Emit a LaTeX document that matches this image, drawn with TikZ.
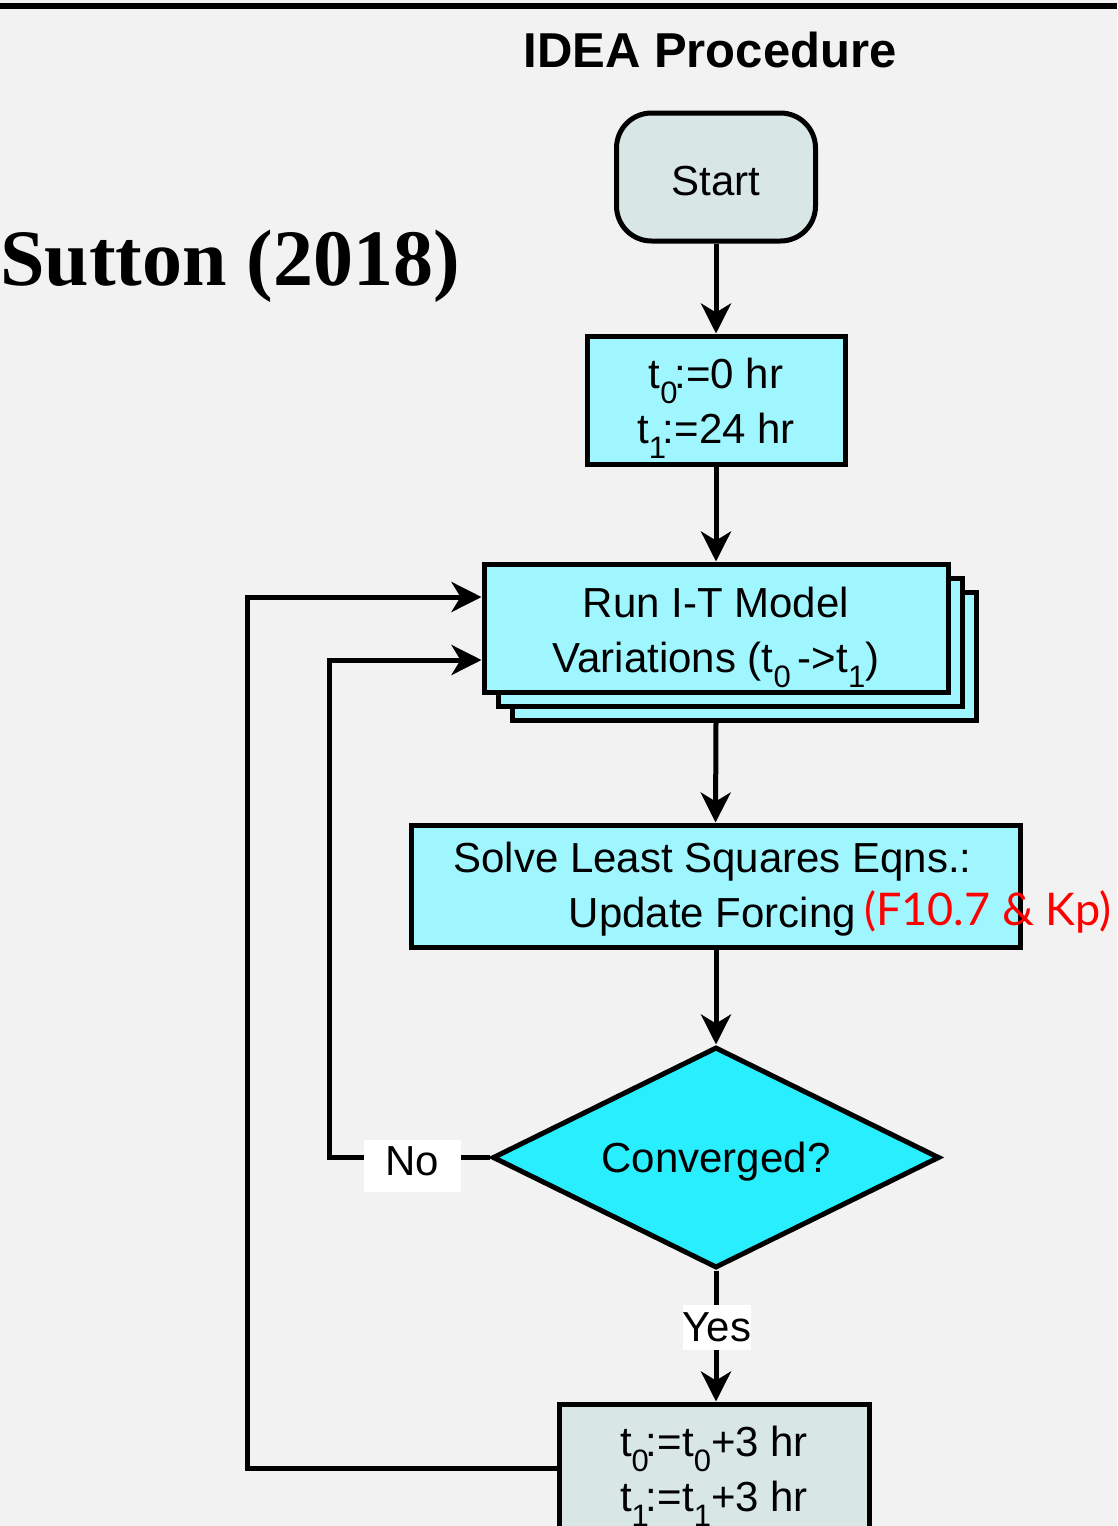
\documentclass[tikz,border=0pt]{standalone}
\usepackage{fontspec}
\setmainfont{Liberation Sans}
\newfontfamily\serifbold{Liberation Serif}
\newfontfamily\humanist{Lato}
\usetikzlibrary{shapes.geometric,arrows.meta,calc}
\newcommand\sbs[1]{\raisebox{-15pt}{\fontsize{31}{31}\selectfont #1}}
\definecolor{bgcol}{HTML}{F2F2F2}
\definecolor{startcol}{HTML}{D8E6E6}
\definecolor{lightcyan}{HTML}{A0F6FE}
\definecolor{diacol}{HTML}{29EEFD}
\begin{document}
\begin{tikzpicture}[x=1pt,y=1pt,
  conn/.style={line width=5pt, -{Stealth[length=30pt,width=30pt,inset=9pt]}},
  box/.style={draw, line width=5pt, inner sep=0pt, align=center, font=\fontsize{42}{55}\selectfont},
  txt/.style={inner sep=0pt, align=center, font=\fontsize{42}{55}\selectfont},
  runbox/.style={box, fill=lightcyan, minimum width=464pt, minimum height=128pt},
  lab/.style={fill=white, inner sep=0pt, font=\fontsize{42}{48}\selectfont}
]
\fill[bgcol] (0,0) rectangle (1117,-1526);
\useasboundingbox (0,0) rectangle (1117,-1526);
\clip (0,0) rectangle (1117,-1526);
\fill[black] (0,-2.7) rectangle (1117,-9.3);

\node[font=\bfseries\fontsize{49}{49}\selectfont] (title) at (710,-50) {IDEA Procedure};
\node[font=\serifbold\bfseries\fontsize{80}{80}\selectfont, anchor=west, inner sep=0pt] (author) at (0,-266) {Sutton (2018)};

\node[box, fill=startcol, rounded corners=35pt, minimum width=199pt, minimum height=128pt, text height=36pt, text depth=0pt] (start) at (716,-177) {Start};
\node[box, fill=lightcyan, minimum width=258pt, minimum height=128pt] (init) at (716,-400) {};
\node[txt] (initT) at ($(init.center)+(0,-8.5)$) {t\sbs{0}\kern-3pt:=0 hr\\t\sbs{1}\kern-3pt:=24 hr};
\node[runbox] (run3) at (744,-656) {};
\node[runbox] (run2) at (730,-642) {};
\node[runbox] (run) at (716,-628) {};
\node[txt] (runT) at ($(run.center)+(0,-9.5)$) {Run I-T Model\\Variations (t\sbs{0}\,->t\sbs{1})};
\node[box, fill=lightcyan, minimum width=609pt, minimum height=122pt] (solve) at (715.5,-886) {};
\node[txt] (solveT) at ($(solve.center)+(-3,-3)$) {Solve Least Squares Eqns.:\\Update Forcing};
\node[font=\humanist\fontsize{45}{45}\selectfont, text=red, anchor=base west, inner sep=0pt] (forcing) at (864,-925) {(F10.7 \& Kp)};
\node[draw, line width=5pt, shape=diamond, aspect=2, fill=diacol, minimum width=447pt, minimum height=221pt, inner sep=0pt, font=\fontsize{42}{48}\selectfont, text height=30pt, text depth=0pt] (dec) at (716,-1157.5) {Converged?};
\node[box, fill=startcol, minimum width=310pt, minimum height=128pt] (bot) at (714,-1468) {};
\node[txt] (botT) at ($(bot.center)+(0,-8)$) {t\sbs{0}\kern-3pt:=t\sbs{0}+3 hr\\t\sbs{1}\kern-3pt:=t\sbs{1}+3 hr};

\coordinate (in1) at ($(run.west)+(0,31)$);
\coordinate (in2) at ($(run.west)+(0,-32)$);
\coordinate (c1) at (247,-597);
\coordinate (c2) at (329,-660);

\draw[conn] (start.south) -- (init.north);
\draw[conn] (init.south) -- (run.north);
\draw[conn] (run.south |- run3.south) -- (solve.north);
\draw[conn] (solve.south -| dec.north) -- (dec.north);
\draw[conn] (dec.south) -- (bot.north -| dec.south);
\draw[conn] (bot.west) -| (c1) -- (in1);
\draw[conn] (dec.west) -| (c2) -- (in2);

\node[lab, minimum width=97pt, minimum height=52pt, text height=24pt, text depth=6pt] (no) at (412,-1166) {No};
\node[lab, minimum width=60pt, minimum height=45pt] (yes) at (717,-1327.5) {Yes};
\end{tikzpicture}
\end{document}
